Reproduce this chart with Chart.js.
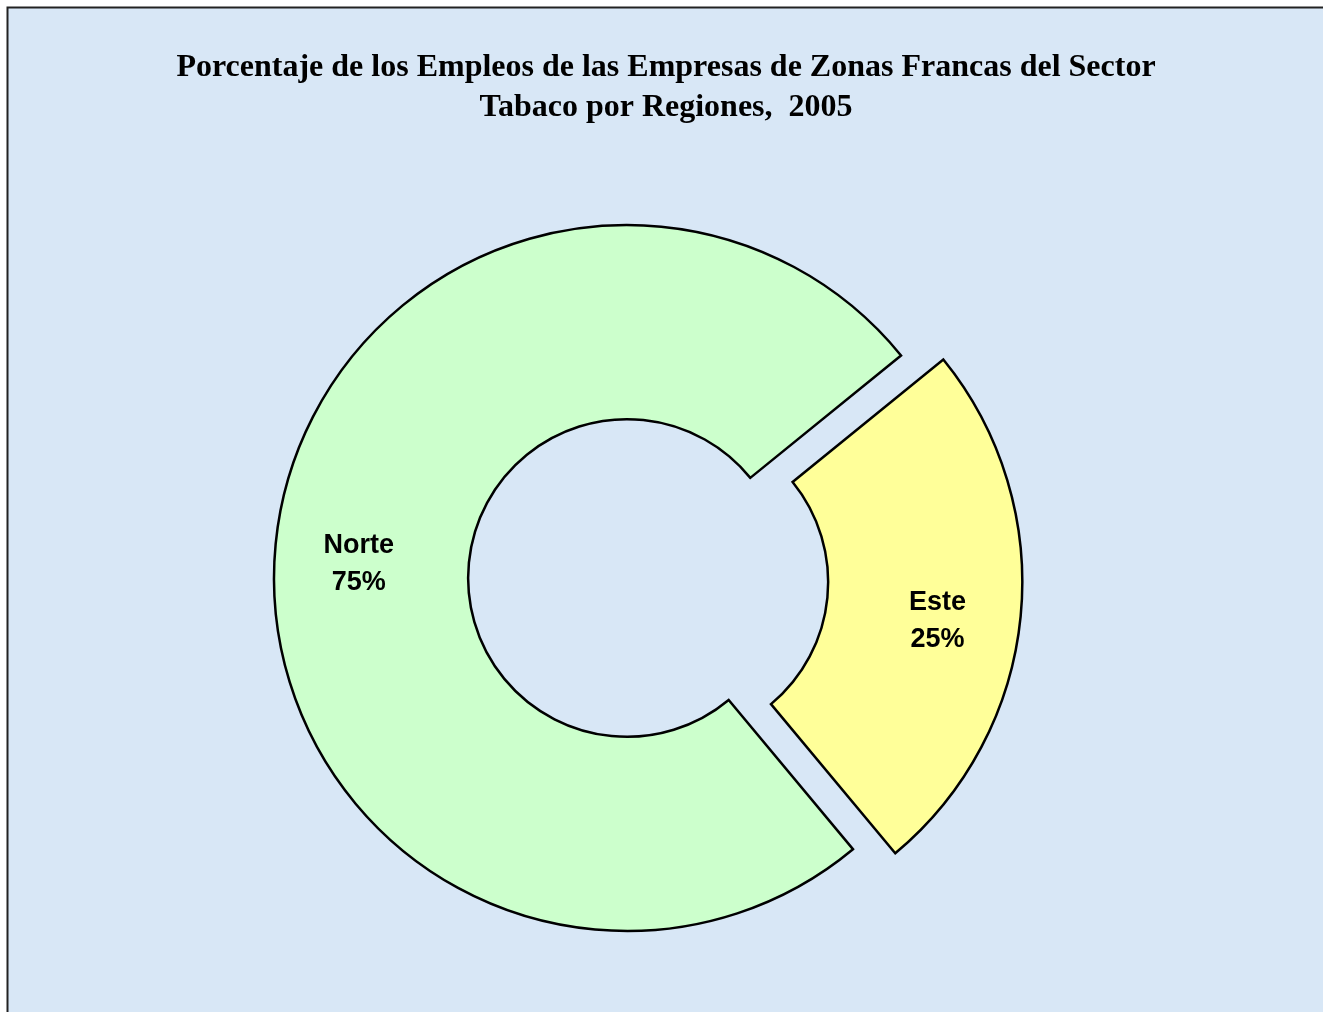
<!DOCTYPE html>
<html>
<head>
<meta charset="utf-8">
<script src="https://cdn.jsdelivr.net/npm/chart.js"></script>
<style>
    html, body { margin: 0; padding: 0; background: #ffffff; }
    #chart { display: block; }
</style>
</head>
<body>
<canvas id="chart" width="1323" height="1012"></canvas>
<script>
// Chart data
const titleLines = [
    'Porcentaje de los Empleos de las Empresas de Zonas Francas del Sector',
    'Tabaco por Regiones,  2005'
];
const regions = ['Norte', 'Este'];
const percents = [75.2, 24.8];
const sliceColors = ['#CCFFCC', '#FFFF99'];
const sliceOffsets = [0, 170];

// Background, frame and title
const framePlugin = {
    id: 'frame',
    beforeDraw(chart) {
        const ctx = chart.ctx;
        ctx.save();
        ctx.fillStyle = '#ffffff';
        ctx.fillRect(0, 0, chart.width, chart.height);
        ctx.fillStyle = '#d8e7f6';
        ctx.fillRect(7, 7, chart.width, chart.height);
        ctx.strokeStyle = '#222222';
        ctx.lineWidth = 2;
        ctx.beginPath();
        ctx.moveTo(7.5, chart.height + 5);
        ctx.lineTo(7.5, 7.5);
        ctx.lineTo(chart.width + 5, 7.5);
        ctx.stroke();

        ctx.fillStyle = '#000000';
        ctx.font = 'bold 32px "Liberation Serif", "Times New Roman", serif';
        ctx.textAlign = 'center';
        ctx.textBaseline = 'middle';
        titleLines.forEach((line, i) => {
            ctx.fillText(line, 666, 68 + i * 40);
        });
        ctx.restore();
    }
};

// Slice labels: name and percentage inside each slice
const sliceLabelPlugin = {
    id: 'sliceLabels',
    afterDatasetsDraw(chart) {
        const ctx = chart.ctx;
        const meta = chart.getDatasetMeta(0);
        ctx.save();
        ctx.fillStyle = '#000000';
        ctx.font = 'bold 27px "Liberation Sans", Arial, sans-serif';
        ctx.textAlign = 'center';
        ctx.textBaseline = 'middle';
        meta.data.forEach((arc, i) => {
            const p = arc.getProps(['x', 'y', 'startAngle', 'endAngle', 'innerRadius', 'outerRadius'], true);
            const mid = (p.startAngle + p.endAngle) / 2;
            const shift = (arc.options.offset || 0) / 4;
            const r = shift + p.innerRadius + (p.outerRadius - p.innerRadius) * 0.57;
            const lx = p.x + Math.cos(mid) * r;
            const ly = p.y + Math.sin(mid) * r + 12;
            ctx.fillText(regions[i], lx, ly - 18);
            ctx.fillText(Math.round(percents[i]) + '%', lx, ly + 19);
        });
        ctx.restore();
    }
};

new Chart(document.getElementById('chart').getContext('2d'), {
    type: 'doughnut',
    data: {
        labels: regions,
        datasets: [{
            data: percents,
            backgroundColor: sliceColors,
            borderColor: '#000000',
            borderWidth: 2.5,
            borderJoinStyle: 'miter',
            offset: sliceOffsets,
            hoverOffset: 0
        }]
    },
    options: {
        responsive: false,
        animation: false,
        events: [],
        rotation: 140.2,
        radius: 353,
        cutout: '45%',
        layout: {
            padding: { left: 0, right: 69, top: 144, bottom: 0 }
        },
        plugins: {
            legend: { display: false },
            title: { display: false },
            tooltip: { enabled: false }
        }
    },
    plugins: [framePlugin, sliceLabelPlugin]
});
</script>
</body>
</html>
